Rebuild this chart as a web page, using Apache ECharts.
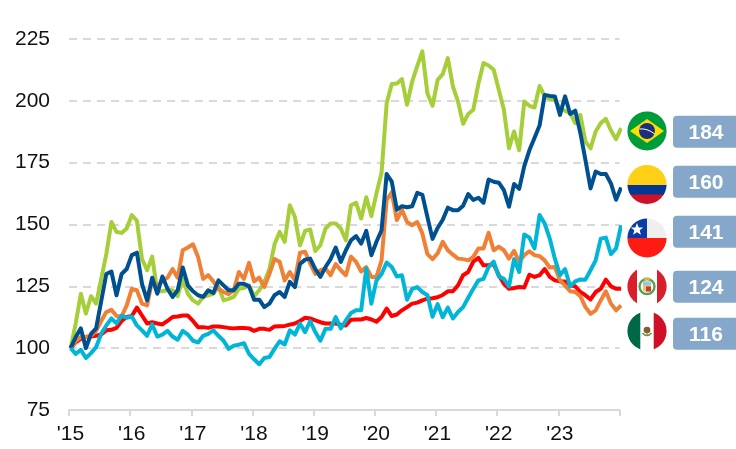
<!DOCTYPE html>
<html>
<head>
<meta charset="utf-8">
<style>html,body{margin:0;padding:0;background:#fff}#c{width:736px;height:449px}</style>
<script src="https://cdn.jsdelivr.net/npm/echarts@6/dist/echarts.min.js"></script>
</head>
<body>
<div id="c"></div>
<script>
const brazil = [100,110,122,114,121,118,128,138,151,147,
146.6,148.4,153.8,151.5,136,131.5,137,123,123,123.5,
123.4,121,128,122,119.3,118,120.7,121.4,122,125,
119.3,119.9,120.7,124,124.3,125.4,121,123.4,126.8,132,
142,147,143,157.8,153,141.6,147.4,148,139.3,141.6,
148.4,150.4,150.4,148.4,143.6,157.8,158.8,152.4,161,153.4,
162.6,171,199,206.8,207,208.8,198.4,207.8,214,220,
203,198,208.5,210.8,217.3,205.8,199.7,190.7,194.7,196.4,
207,215.3,214.3,212.6,204.5,196.4,180.8,187.6,180,199.7,
198,197.3,206,201.8,200.7,200.4,197,196,195,191,
194.3,183.5,180.8,187.6,191,192.7,188,184.5,189];
const colombia = [100,104.5,108,100,105.8,108,119,130,131,121.4,
130,132,137.6,138.6,126,119.3,128.5,122,129,124,
120.7,123.4,132.6,125.4,123,121.4,120.7,123.4,122.3,127.4,
125.4,123.4,123.4,126,126,125,119.6,119.6,116.6,118,
121.4,122.7,120.7,126.8,124.7,134,135.8,136.2,132,128.8,
132.8,136,140.7,134.9,139.6,143.6,145.3,142.3,147.4,137.6,
143,147.7,170.4,167.3,156,157.4,157,157.4,162.8,162,
153,144.2,148.6,151.9,156.8,155.8,155.8,157.6,162.3,159.9,
160.8,158.8,168.2,167.3,166.9,163.9,157.2,166.4,164.4,173.6,
180,185,190,202.4,202,201.8,194.3,201.8,194.7,196,
187,176,164.6,171.4,170.4,170.4,166.6,160,165];
const chile = [100,97.7,99.3,96,98,100.4,105.8,109.2,112,110,
113.2,112.3,112.8,109.2,107.2,105,109.6,104.7,105.5,107,
104.7,103.4,107,105.5,103,102.3,105,105.8,107.2,105,
103,99.7,101,101.4,102,97.7,95.5,93.5,96,96.4,
99.7,102.8,101.5,107.2,105.5,109.9,106.5,111,106.5,103,
107.8,107.8,112.6,108,111.2,114.2,115.3,115.3,132.2,118,
127.4,130,134.6,132.8,129,129.5,119.6,124,124.7,122.7,
121.4,112.7,117.8,112.5,116.4,112,114.6,116.6,120.4,124,
127.4,128,132.8,135,129,128,125,136,130.8,146,
144.7,140.3,153.8,150.4,144.3,136.2,129.5,132,125,127,
127.8,127.7,131.5,135.5,144.3,144.7,138,140.3,149.7];
const peru = [100,102.4,103.8,104.5,104.7,105,105.5,107.2,107.4,108.2,
111,112.6,113,116.4,113.2,110,110.5,110,109.6,111,
112.6,112.8,113.2,113.2,111,108.5,108.5,108.2,108.8,108.8,
108.5,108.2,108,108.2,108.2,108,107,107.8,107.8,107.4,
108.8,108.9,109,109.5,110,111,112.3,112,111.2,110.5,
110,110,110,109.5,109.2,111.5,111.6,111.6,112.2,111.6,
110.7,112.6,116,113,113.6,115.3,116.6,118,118.4,119.3,
120,120.2,120.6,121.5,123,123,125.4,129.5,130.8,135,
136.5,133.5,133.5,134,129.5,126,124,124.3,124.7,124.5,
129.7,128.8,129.5,132,128.8,127.4,127,127,125.4,125,
122.7,121.4,119.7,122.7,124,127.7,125,124,124];
const mexico = [100,102.8,104.5,104.5,105,107,111,114.6,115.5,113,
112.8,117.3,124,123.4,118,117.3,127.4,124.7,127.4,128.5,
132,128.5,139.6,140.7,142,136.9,128,129.5,127,124,
122.7,121.8,123.4,130.8,128,134.5,127,128.5,124.7,130,
136,134.9,127.4,130.8,127.4,138.6,139,134.2,130,131.5,
132.2,129.5,134,131.5,129.5,137,134.9,131,132.8,128.8,
128.8,135.5,160,163,151.8,156,151,149.7,151,146.4,
138,136,138.3,143,139.6,137.8,136.2,136,135.5,136.9,
140.3,140.3,146.6,139.6,141,139.6,136.2,139.3,134.9,137.6,
139.2,137.6,137.2,135.5,132.6,132.8,127.4,125.4,123,122.7,
121,116.6,113.9,115.3,119.3,123,118,115.3,117.3];
const yearLabels = ["'15","'16","'17","'18","'19","'20","'21","'22","'23"];
const endLabels = ['184','160','141','124','116'];
const yTicks = {min:75,max:225,step:25};

const svg = (body) => 'data:image/svg+xml;charset=utf-8,' + encodeURIComponent(
  '<svg xmlns="http://www.w3.org/2000/svg" width="40" height="40" viewBox="0 0 40 40"><defs><clipPath id="k"><circle cx="20" cy="20" r="19.6"/></clipPath></defs><g clip-path="url(#k)">' + body + '</g></svg>');
const flags = [
 svg('<rect width="40" height="40" fill="#009B3A"/><path d="M20 8 L37 20 L20 32 L3 20Z" fill="#FEDF00"/><circle cx="20" cy="20" r="8" fill="#1B2F7E"/><path d="M12.4 18 Q20 17 27.8 23" stroke="#fff" stroke-width="1" fill="none"/>'),
 svg('<rect width="40" height="21" fill="#FFD016"/><rect y="20.5" width="40" height="10" fill="#003893"/><rect y="30" width="40" height="10" fill="#CE1126"/>'),
 svg('<rect width="40" height="20" fill="#EFEFEF"/><rect width="20" height="20" fill="#0A3CA8"/><rect y="20" width="40" height="20" fill="#FF1A12"/><path d="M10 5 L11.7 9.4 L16.2 9.5 L12.7 12.3 L13.9 16.7 L10 14.2 L6.1 16.7 L7.3 12.3 L3.8 9.5 L8.3 9.4Z" fill="#fff"/>'),
 svg('<rect width="40" height="40" fill="#fff"/><rect width="10" height="40" fill="#D91F2C"/><rect x="30" width="10" height="40" fill="#D91F2C"/><circle cx="20" cy="20" r="7.5" fill="none" stroke="#5E9E4B" stroke-width="2.4"/><rect x="16" y="15" width="8" height="10" rx="2" fill="#E9C46A"/><rect x="16" y="15" width="8" height="4" fill="#9CC8D8"/><rect x="19" y="20" width="5" height="5" fill="#C8372F"/><rect x="17" y="11" width="6" height="2.5" fill="#D4B04A"/>'),
 svg('<rect width="40" height="40" fill="#fff"/><rect width="13.3" height="40" fill="#006847"/><rect x="26.7" width="13.3" height="40" fill="#CE1126"/><ellipse cx="20" cy="19" rx="3.4" ry="3.2" fill="#8A5A2B"/><path d="M15.5 22 Q20 27 24.5 22" stroke="#5E8E5A" stroke-width="1.6" fill="none"/><circle cx="20" cy="23" r="1.2" fill="#C9A24A"/>')
];
const flagY = [131, 184.5, 238, 286.5, 331];
const pillY = [115.7, 165.7, 215.7, 270.7, 317.7];

const monthOffset = 0.32;
const toPoints = (a) => a.map((v,i)=>[i+monthOffset,v]);
const line = (name,data,color) => ({name,type:'line',data:toPoints(data),showSymbol:false,clip:false,animation:false,
  lineStyle:{color,width:4,join:'round'},z:3});

const graphic = [];
flags.forEach((src,i)=>{
  graphic.push({type:'image',style:{image:src,x:627,y:flagY[i]-20,width:40,height:40},z:10});
  graphic.push({type:'rect',shape:{x:673,y:pillY[i],width:80,height:32,r:4},style:{fill:'#85A8CA'},z:10});
  graphic.push({type:'text',style:{text:endLabels[i],x:706,y:pillY[i]+18,align:'center',verticalAlign:'middle',fill:'#fff',font:'bold 21px "Liberation Sans"'},z:11});
});

const chart = echarts.init(document.getElementById('c'),null,{renderer:'canvas'});
chart.setOption({
  animation:false,
  backgroundColor:'#fff',
  grid:{left:69,right:116.5,top:39,bottom:39},
  xAxis:{type:'value',min:0,max:108,interval:12,
    axisLine:{show:true,lineStyle:{color:'#d9d9d9',width:2}},
    axisTick:{show:true,length:6,lineStyle:{color:'#d9d9d9',width:2}},
    splitLine:{show:false},
    axisLabel:{margin:14,color:'#111',fontFamily:'Liberation Sans',fontSize:21,padding:[0,0,0,3],showMaxLabel:true,showMinLabel:true,
      formatter:(v)=>yearLabels[v/12]||''}},
  yAxis:{type:'value',min:yTicks.min,max:yTicks.max,interval:yTicks.step,
    axisLine:{show:false},axisTick:{show:false},
    splitLine:{show:true,lineStyle:{color:'#d9d9d9',width:2,type:[8,6]}},
    axisLabel:{margin:19,color:'#111',fontFamily:'Liberation Sans',fontSize:21,padding:[2,0,0,0]}},
  series:[
    line('Brazil',brazil,'#A6CE39'),
    line('Peru',peru,'#FF0000'),
    line('Mexico',mexico,'#F08035'),
    line('Colombia',colombia,'#00508F'),
    line('Chile',chile,'#00B5D6')
  ],
  graphic
});
</script>
</body>
</html>
